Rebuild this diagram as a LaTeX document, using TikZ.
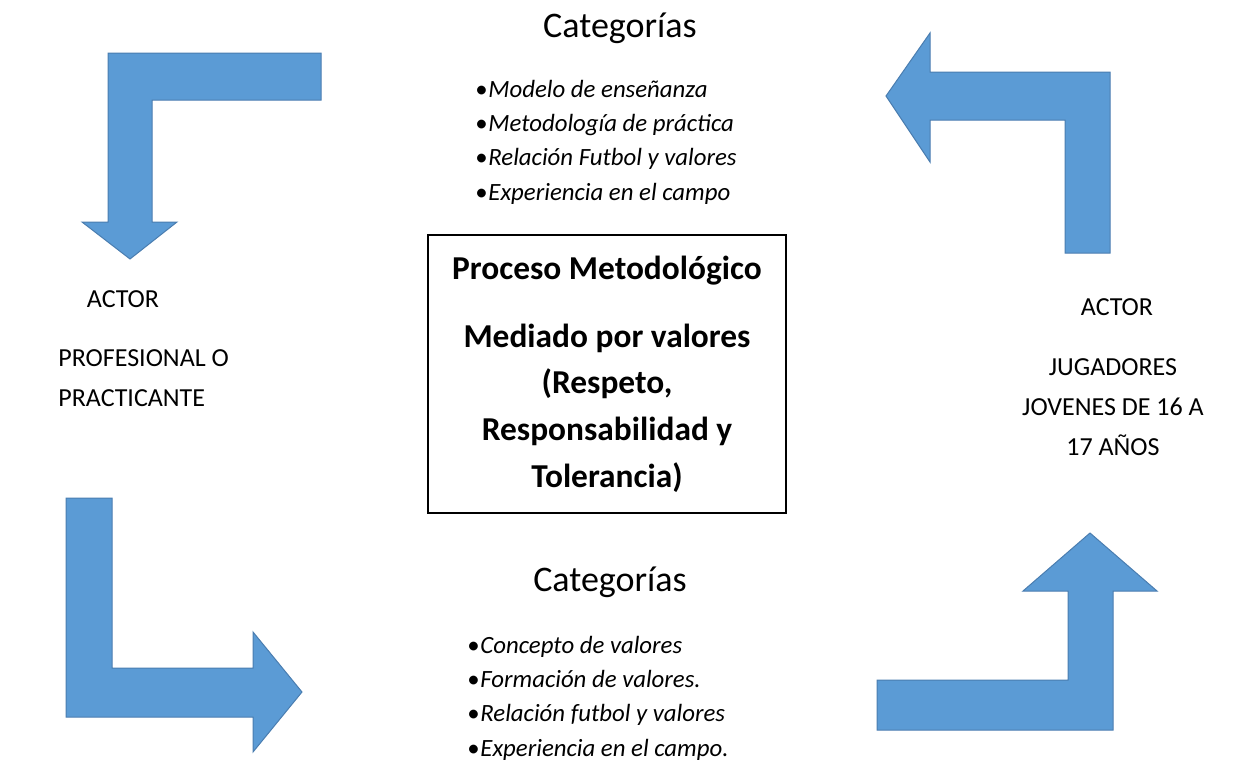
\documentclass[tikz,border=0pt]{standalone}
\usepackage{fontspec}
\setmainfont{Carlito}
\usetikzlibrary{positioning}
\definecolor{azul}{HTML}{5B9BD5}
\definecolor{azulborde}{HTML}{4A7DB0}
\newcommand{\vineta}{\makebox[6.5pt][l]{\upshape\textbullet}}

\begin{document}
\begin{tikzpicture}[x=0.5pt,y=-0.5pt,
  flecha/.style={fill=azul,draw=azulborde,line width=0.5pt},
  caja/.style={draw,line width=0.7pt,minimum width=179pt,minimum height=139pt,inner sep=0pt,align=center,font=\bfseries\fontsize{16.7}{23.3}\selectfont},
  titulo/.style={anchor=base,inner sep=0pt,font=\fontsize{18}{21}\selectfont},
  item/.style={anchor=west,inner sep=0pt,text height=11pt,text depth=5.75pt,font=\itshape\fontsize{12.4}{16.75}\selectfont},
  actor/.style={align=center,inner sep=0pt,font=\fontsize{13}{20}\selectfont}]
	\useasboundingbox (0,0) rectangle (1243,760);

	% flechas
	\path[flecha] (321,53) -- (108,53) -- (108,222) -- (82,222) -- (130,259) -- (177,222) -- (152,222) -- (152,100) -- (321,100) -- cycle;
	\path[flecha] (1110,253) -- (1110,72) -- (930,72) -- (930,33) -- (886,96) -- (930,162) -- (930,120) -- (1065,120) -- (1065,253) -- cycle;
	\path[flecha] (66,498) -- (66,717) -- (253,717) -- (253,752) -- (302,692) -- (253,632) -- (253,668) -- (112,668) -- (112,498) -- cycle;
	\path[flecha] (877,730) -- (1113,730) -- (1113,591) -- (1157,591) -- (1090,533) -- (1023,591) -- (1068,591) -- (1068,680) -- (877,680) -- cycle;

	% centro
	\node[caja] (proceso) at (607,374) {Proceso Metodológico\\[10.7pt]
		Mediado por valores\\ (Respeto,\\ Responsabilidad y\\ Tolerancia)};

	% categorias arriba
	\node[titulo] (catA) at (620,37) {Categorías};
	\node[item] (a1) at (475,92) {\vineta Modelo de enseñanza};
	\node[item] (a2) [below right=0pt and 0pt of a1.south west] {\vineta Metodología de práctica};
	\node[item] (a3) [below right=0pt and 0pt of a2.south west] {\vineta Relación Futbol y valores};
	\node[item] (a4) [below right=0pt and 0pt of a3.south west] {\vineta Experiencia en el campo};

	% categorias abajo
	\node[titulo] (catB) at (610,591) {Categorías};
	\node[item] (b1) at (467,648) {\vineta Concepto de valores};
	\node[item] (b2) [below right=0pt and 0pt of b1.south west] {\vineta Formación de valores.};
	\node[item] (b3) [below right=0pt and 0pt of b2.south west] {\vineta Relación futbol y valores};
	\node[item] (b4) [below right=0pt and 0pt of b3.south west] {\vineta Experiencia en el campo.};

	% actores
	\node[actor] (actorI) at (123,299) {ACTOR};
	\node[actor,align=left,anchor=west] (profesional) at (58,378) {PROFESIONAL O\\ PRACTICANTE};
	\node[actor] (actorD) at (1117,307) {ACTOR};
	\node[actor] (jugadores) at (1113,407) {JUGADORES\\ JOVENES DE 16 A\\ 17 AÑOS};
\end{tikzpicture}
\end{document}
